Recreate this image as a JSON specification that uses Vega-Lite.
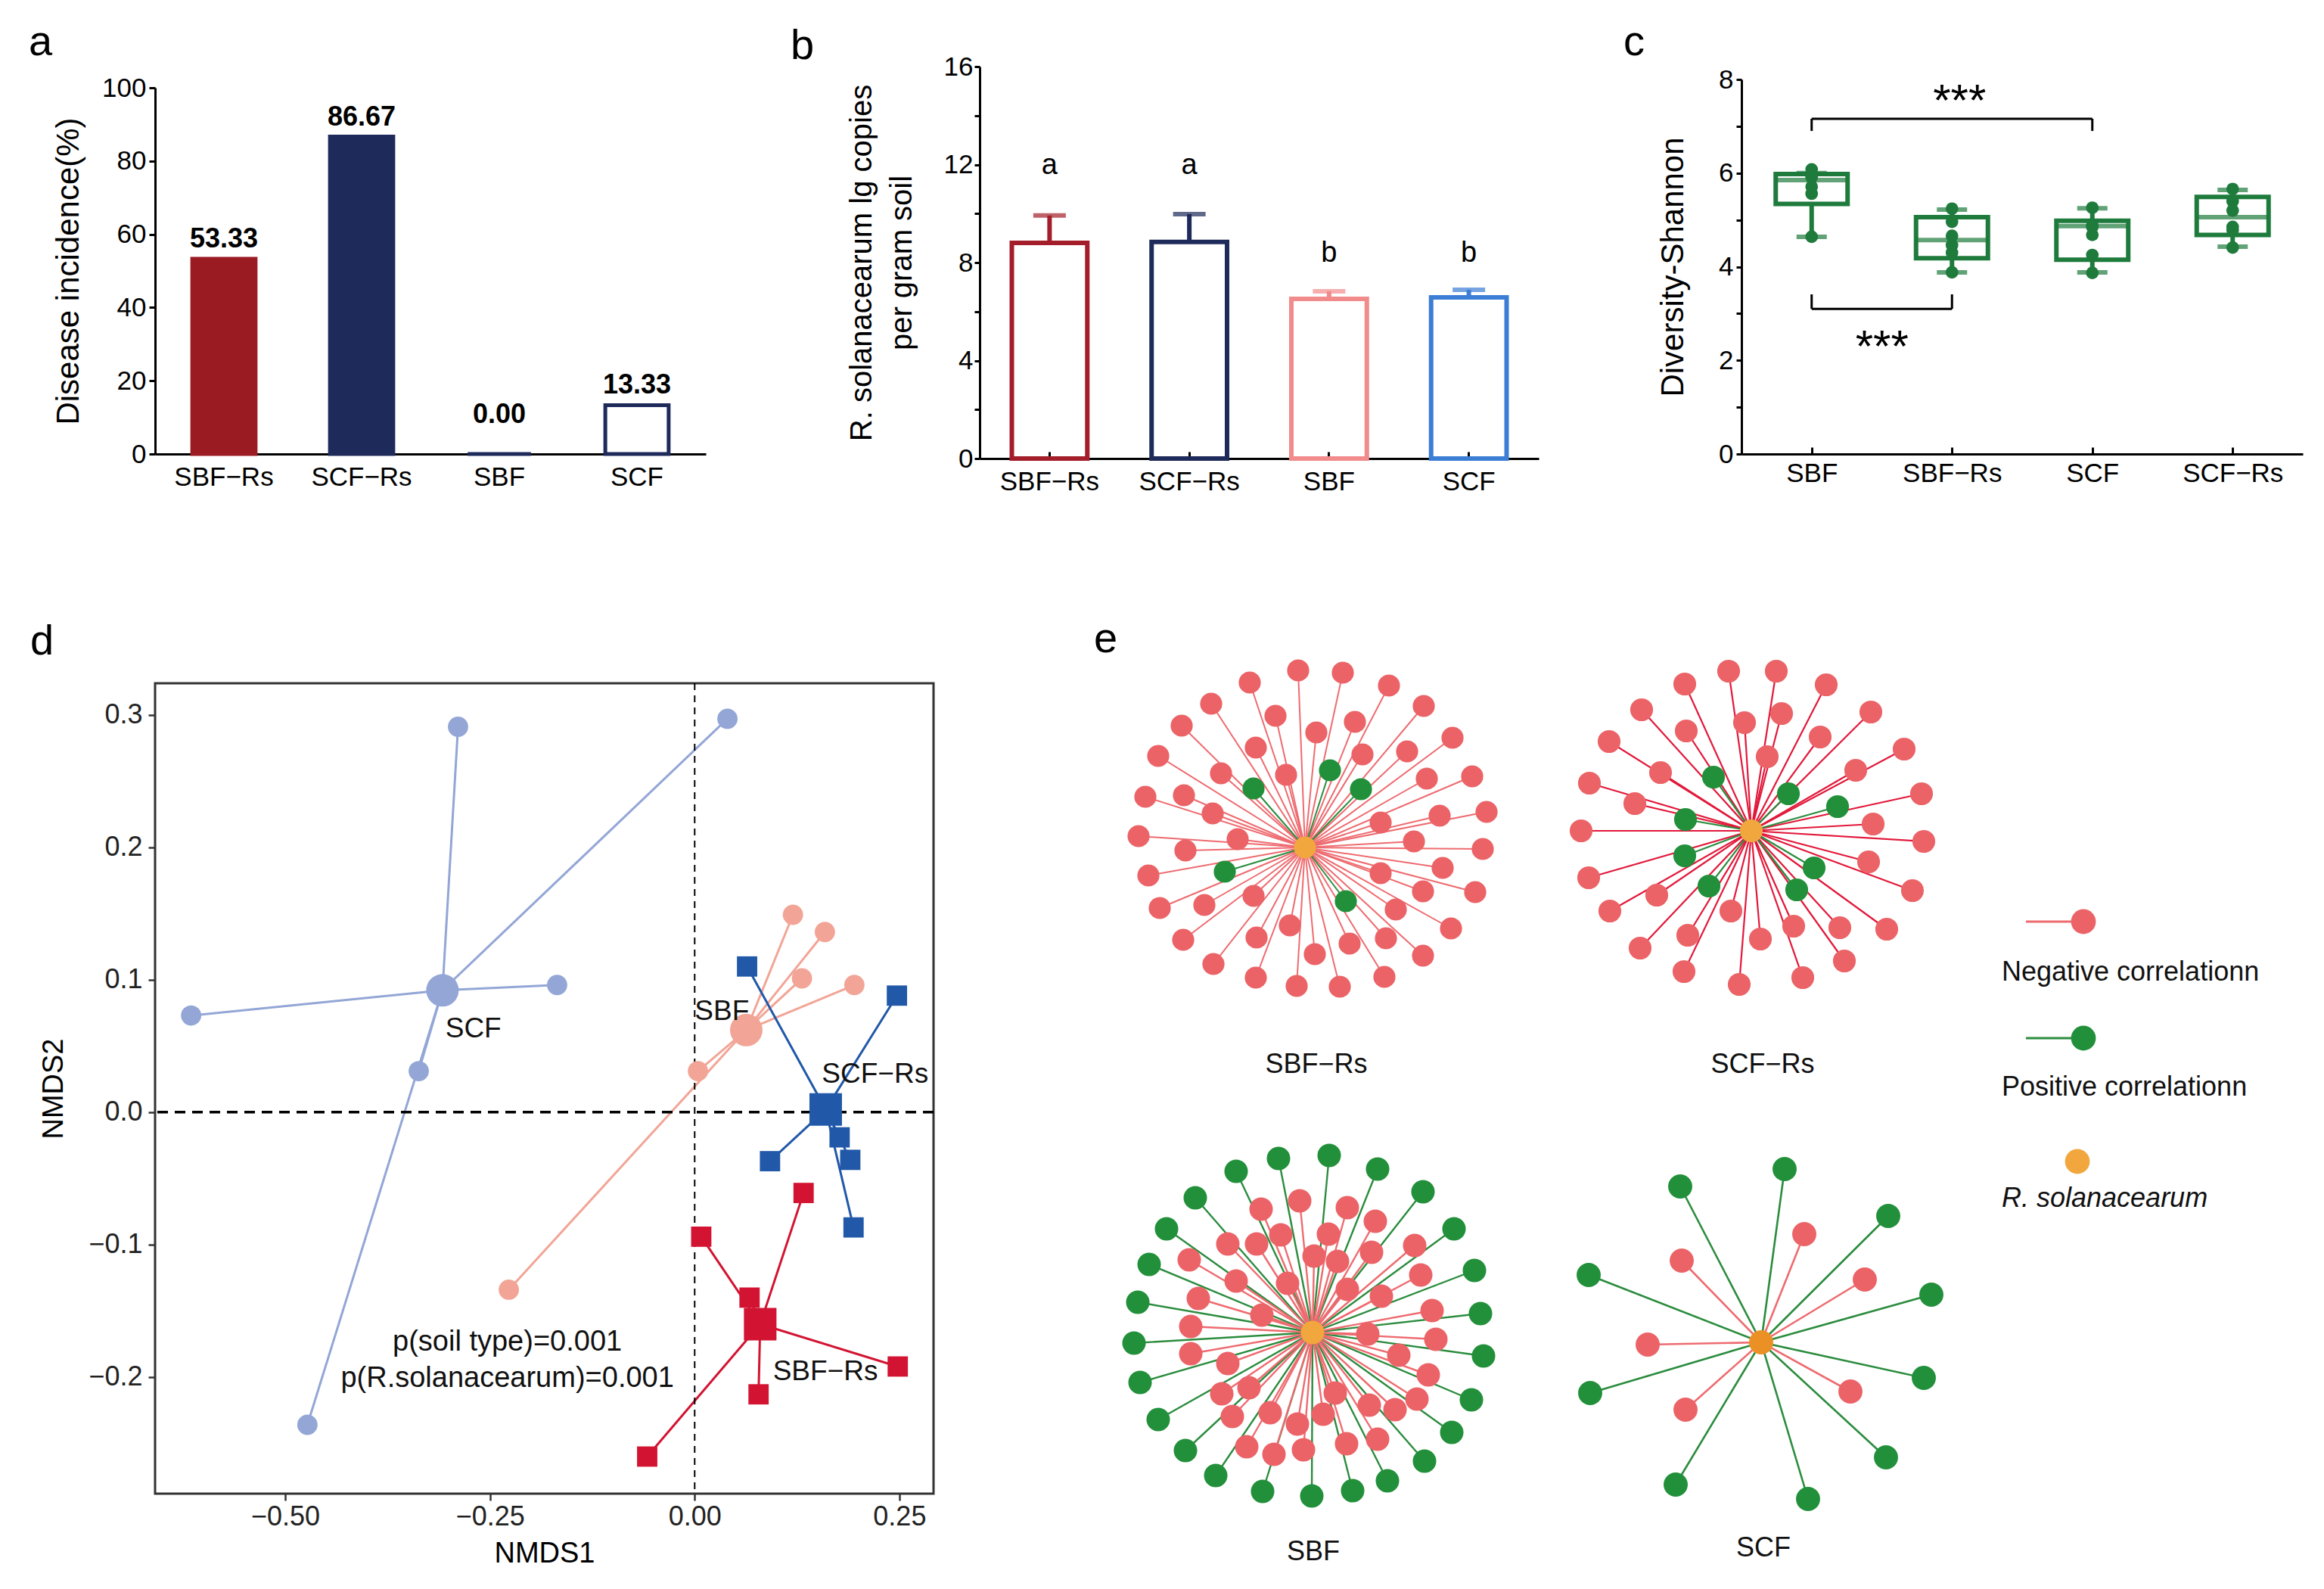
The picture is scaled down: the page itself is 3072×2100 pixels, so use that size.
{
"$schema": "https://vega.github.io/schema/vega-lite/v6.json",
"padding": {"left": 38, "top": 28, "right": 0, "bottom": 0},
"background": "white",
"config": {
  "view": {"stroke": null},
  "font": "Liberation Sans",
  "axis": {"labelFont": "Liberation Sans", "titleFont": "Liberation Sans", "labelColor": "#000", "titleColor": "#000", "labelFontSize": 35, "titleFontSize": 42, "titleFontWeight": "normal", "domainColor": "#000", "domainWidth": 3, "tickColor": "#000", "tickWidth": 3, "grid": false},
  "title": {"font": "Liberation Sans", "fontSize": 56, "fontWeight": "normal", "anchor": "start", "frame": "group", "baseline": "alphabetic", "color": "#000"}
},
"datasets": {
  "incidence": [
    {"group": "SBF−Rs", "incidence": 53.33, "labelY": 53.33},
    {"group": "SCF−Rs", "incidence": 86.67, "labelY": 86.67},
    {"group": "SBF", "incidence": 0, "labelY": 5.4},
    {"group": "SCF", "incidence": 13.33, "labelY": 13.33}
  ],
  "copies": [
    {"group": "SBF−Rs", "mean": 8.80, "upper": 9.92, "letter": "a", "letterY": 11.6},
    {"group": "SCF−Rs", "mean": 8.84, "upper": 9.98, "letter": "a", "letterY": 11.6},
    {"group": "SBF", "mean": 6.52, "upper": 6.83, "letter": "b", "letterY": 8.04},
    {"group": "SCF", "mean": 6.58, "upper": 6.89, "letter": "b", "letterY": 8.04}
  ],
  "shannon_box": [
    {"group": "SBF", "lo": 4.64, "q1": 5.34, "med": 5.85, "q3": 5.98, "hi": 6.0},
    {"group": "SBF−Rs", "lo": 3.88, "q1": 4.18, "med": 4.57, "q3": 5.06, "hi": 5.22},
    {"group": "SCF", "lo": 3.88, "q1": 4.15, "med": 4.87, "q3": 4.98, "hi": 5.25},
    {"group": "SCF−Rs", "lo": 4.43, "q1": 4.68, "med": 5.06, "q3": 5.49, "hi": 5.64}
  ],
  "shannon": [
    {"group": "SBF", "shannon": 5.94}, {"group": "SBF", "shannon": 6.08}, {"group": "SBF", "shannon": 5.91},
    {"group": "SBF", "shannon": 5.71}, {"group": "SBF", "shannon": 5.56}, {"group": "SBF", "shannon": 4.64},
    {"group": "SBF−Rs", "shannon": 5.24}, {"group": "SBF−Rs", "shannon": 4.96}, {"group": "SBF−Rs", "shannon": 4.66},
    {"group": "SBF−Rs", "shannon": 4.46}, {"group": "SBF−Rs", "shannon": 4.30}, {"group": "SBF−Rs", "shannon": 3.88},
    {"group": "SCF", "shannon": 5.26}, {"group": "SCF", "shannon": 4.88}, {"group": "SCF", "shannon": 4.85},
    {"group": "SCF", "shannon": 4.68}, {"group": "SCF", "shannon": 4.25}, {"group": "SCF", "shannon": 3.87},
    {"group": "SCF−Rs", "shannon": 5.66}, {"group": "SCF−Rs", "shannon": 5.40}, {"group": "SCF−Rs", "shannon": 5.20},
    {"group": "SCF−Rs", "shannon": 4.85}, {"group": "SCF−Rs", "shannon": 4.78}, {"group": "SCF−Rs", "shannon": 4.41}
  ],
  "brackets": [
    {"group": "SBF", "group2": "SCF", "y": 7.16},
    {"group": "SBF", "group2": "SBF−Rs", "y": 3.10}
  ],
  "bracket_legs": [
    {"group": "SBF", "y1": 6.90, "y2": 7.16},
    {"group": "SCF", "y1": 6.90, "y2": 7.16},
    {"group": "SBF", "y1": 3.10, "y2": 3.41},
    {"group": "SBF−Rs", "y1": 3.10, "y2": 3.41}
  ],
  "nmds": [
    {"group": "SCF", "x": -0.289, "y": 0.291}, {"group": "SCF", "x": 0.040, "y": 0.297}, {"group": "SCF", "x": -0.168, "y": 0.096},
    {"group": "SCF", "x": -0.615, "y": 0.073}, {"group": "SCF", "x": -0.337, "y": 0.031}, {"group": "SCF", "x": -0.473, "y": -0.236},
    {"group": "SBF", "x": 0.120, "y": 0.149}, {"group": "SBF", "x": 0.159, "y": 0.136}, {"group": "SBF", "x": 0.131, "y": 0.101},
    {"group": "SBF", "x": 0.195, "y": 0.096}, {"group": "SBF", "x": 0.004, "y": 0.031}, {"group": "SBF", "x": -0.227, "y": -0.134},
    {"group": "SCF−Rs", "x": 0.064, "y": 0.110}, {"group": "SCF−Rs", "x": 0.247, "y": 0.088}, {"group": "SCF−Rs", "x": 0.092, "y": -0.037},
    {"group": "SCF−Rs", "x": 0.177, "y": -0.019}, {"group": "SCF−Rs", "x": 0.190, "y": -0.036}, {"group": "SCF−Rs", "x": 0.194, "y": -0.087},
    {"group": "SBF−Rs", "x": 0.133, "y": -0.061}, {"group": "SBF−Rs", "x": 0.008, "y": -0.094}, {"group": "SBF−Rs", "x": 0.067, "y": -0.140},
    {"group": "SBF−Rs", "x": 0.248, "y": -0.192}, {"group": "SBF−Rs", "x": 0.078, "y": -0.213}, {"group": "SBF−Rs", "x": -0.058, "y": -0.260}
  ],
  "nmds_centroids": [
    {"group": "SCF", "x": -0.308, "y": 0.092},
    {"group": "SBF", "x": 0.063, "y": 0.062},
    {"group": "SCF−Rs", "x": 0.160, "y": 0.002},
    {"group": "SBF−Rs", "x": 0.080, "y": -0.160}
  ],
  "nmds_labels": [
    {"label": "SCF", "x": -0.3045, "y": 0.063},
    {"label": "SBF", "x": 0.0, "y": 0.076},
    {"label": "SCF−Rs", "x": 0.1553, "y": 0.0286},
    {"label": "SBF−Rs", "x": 0.0955, "y": -0.196}
  ],
  "nmds_p": [
    {"label": "p(soil type)=0.001", "x": -0.2288, "y": -0.1738},
    {"label": "p(R.solanacearum)=0.001", "x": -0.2288, "y": -0.201}
  ],
  "centers": [
    {"net": "SBF−Rs", "x": 1719, "y": 1121},
    {"net": "SCF−Rs", "x": 2309, "y": 1099},
    {"net": "SBF", "x": 1729, "y": 1762},
    {"net": "SCF", "x": 2322, "y": 1775}
  ],
  "nodes": [
    {"net":"SBF−Rs","type":"neg","x":1710,"y":887},{"net":"SBF−Rs","type":"neg","x":1769,"y":890},{"net":"SBF−Rs","type":"neg","x":1646,"y":903},
    {"net":"SBF−Rs","type":"neg","x":1830,"y":907},{"net":"SBF−Rs","type":"neg","x":1595,"y":931},{"net":"SBF−Rs","type":"neg","x":1876,"y":934},
    {"net":"SBF−Rs","type":"neg","x":1680,"y":947},{"net":"SBF−Rs","type":"neg","x":1785,"y":955},{"net":"SBF−Rs","type":"neg","x":1556,"y":960},
    {"net":"SBF−Rs","type":"neg","x":1734,"y":969},{"net":"SBF−Rs","type":"neg","x":1914,"y":976},{"net":"SBF−Rs","type":"neg","x":1654,"y":989},
    {"net":"SBF−Rs","type":"neg","x":1854,"y":994},{"net":"SBF−Rs","type":"neg","x":1795,"y":998},{"net":"SBF−Rs","type":"neg","x":1525,"y":1000},
    {"net":"SBF−Rs","type":"neg","x":1608,"y":1023},{"net":"SBF−Rs","type":"neg","x":1694,"y":1025},{"net":"SBF−Rs","type":"neg","x":1940,"y":1027},
    {"net":"SBF−Rs","type":"neg","x":1880,"y":1030},{"net":"SBF−Rs","type":"neg","x":1508,"y":1054},{"net":"SBF−Rs","type":"neg","x":1559,"y":1052},
    {"net":"SBF−Rs","type":"neg","x":1597,"y":1076},{"net":"SBF−Rs","type":"neg","x":1897,"y":1079},{"net":"SBF−Rs","type":"neg","x":1959,"y":1074},
    {"net":"SBF−Rs","type":"neg","x":1819,"y":1088},{"net":"SBF−Rs","type":"neg","x":1499,"y":1106},{"net":"SBF−Rs","type":"neg","x":1630,"y":1110},
    {"net":"SBF−Rs","type":"neg","x":1863,"y":1113},{"net":"SBF−Rs","type":"neg","x":1561,"y":1125},{"net":"SBF−Rs","type":"neg","x":1954,"y":1123},
    {"net":"SBF−Rs","type":"neg","x":1512,"y":1158},{"net":"SBF−Rs","type":"neg","x":1901,"y":1148},{"net":"SBF−Rs","type":"neg","x":1819,"y":1155},
    {"net":"SBF−Rs","type":"neg","x":1875,"y":1179},{"net":"SBF−Rs","type":"neg","x":1944,"y":1180},{"net":"SBF−Rs","type":"neg","x":1651,"y":1185},
    {"net":"SBF−Rs","type":"neg","x":1586,"y":1197},{"net":"SBF−Rs","type":"neg","x":1527,"y":1201},{"net":"SBF−Rs","type":"neg","x":1839,"y":1203},
    {"net":"SBF−Rs","type":"neg","x":1912,"y":1228},{"net":"SBF−Rs","type":"neg","x":1699,"y":1224},{"net":"SBF−Rs","type":"neg","x":1655,"y":1240},
    {"net":"SBF−Rs","type":"neg","x":1558,"y":1243},{"net":"SBF−Rs","type":"neg","x":1778,"y":1248},{"net":"SBF−Rs","type":"neg","x":1826,"y":1241},
    {"net":"SBF−Rs","type":"neg","x":1732,"y":1262},{"net":"SBF−Rs","type":"neg","x":1875,"y":1264},{"net":"SBF−Rs","type":"neg","x":1598,"y":1275},
    {"net":"SBF−Rs","type":"neg","x":1654,"y":1293},{"net":"SBF−Rs","type":"neg","x":1824,"y":1292},{"net":"SBF−Rs","type":"neg","x":1708,"y":1304},
    {"net":"SBF−Rs","type":"neg","x":1765,"y":1305},
    {"net":"SBF−Rs","type":"pos","x":1752,"y":1019},{"net":"SBF−Rs","type":"pos","x":1651,"y":1043},{"net":"SBF−Rs","type":"pos","x":1793,"y":1044},
    {"net":"SBF−Rs","type":"pos","x":1613,"y":1153},{"net":"SBF−Rs","type":"pos","x":1773,"y":1192},

    {"net":"SCF−Rs","type":"neg","x":2279,"y":888},{"net":"SCF−Rs","type":"neg","x":2342,"y":888},{"net":"SCF−Rs","type":"neg","x":2221,"y":905},
    {"net":"SCF−Rs","type":"neg","x":2408,"y":906},{"net":"SCF−Rs","type":"neg","x":2164,"y":939},{"net":"SCF−Rs","type":"neg","x":2349,"y":944},
    {"net":"SCF−Rs","type":"neg","x":2467,"y":942},{"net":"SCF−Rs","type":"neg","x":2300,"y":956},{"net":"SCF−Rs","type":"neg","x":2223,"y":967},
    {"net":"SCF−Rs","type":"neg","x":2400,"y":975},{"net":"SCF−Rs","type":"neg","x":2121,"y":981},{"net":"SCF−Rs","type":"neg","x":2511,"y":991},
    {"net":"SCF−Rs","type":"neg","x":2330,"y":1001},{"net":"SCF−Rs","type":"neg","x":2189,"y":1022},{"net":"SCF−Rs","type":"neg","x":2447,"y":1019},
    {"net":"SCF−Rs","type":"neg","x":2095,"y":1036},{"net":"SCF−Rs","type":"neg","x":2534,"y":1050},{"net":"SCF−Rs","type":"neg","x":2155,"y":1063},
    {"net":"SCF−Rs","type":"neg","x":2470,"y":1090},{"net":"SCF−Rs","type":"neg","x":2084,"y":1099},{"net":"SCF−Rs","type":"neg","x":2537,"y":1113},
    {"net":"SCF−Rs","type":"neg","x":2464,"y":1140},{"net":"SCF−Rs","type":"neg","x":2094,"y":1161},{"net":"SCF−Rs","type":"neg","x":2522,"y":1178},
    {"net":"SCF−Rs","type":"neg","x":2184,"y":1184},{"net":"SCF−Rs","type":"neg","x":2122,"y":1205},{"net":"SCF−Rs","type":"neg","x":2282,"y":1205},
    {"net":"SCF−Rs","type":"neg","x":2365,"y":1225},{"net":"SCF−Rs","type":"neg","x":2426,"y":1227},{"net":"SCF−Rs","type":"neg","x":2488,"y":1229},
    {"net":"SCF−Rs","type":"neg","x":2225,"y":1237},{"net":"SCF−Rs","type":"neg","x":2321,"y":1242},{"net":"SCF−Rs","type":"neg","x":2162,"y":1254},
    {"net":"SCF−Rs","type":"neg","x":2432,"y":1271},{"net":"SCF−Rs","type":"neg","x":2220,"y":1285},{"net":"SCF−Rs","type":"neg","x":2377,"y":1293},
    {"net":"SCF−Rs","type":"neg","x":2293,"y":1302},
    {"net":"SCF−Rs","type":"pos","x":2259,"y":1028},{"net":"SCF−Rs","type":"pos","x":2358,"y":1050},{"net":"SCF−Rs","type":"pos","x":2423,"y":1067},
    {"net":"SCF−Rs","type":"pos","x":2222,"y":1084},{"net":"SCF−Rs","type":"pos","x":2221,"y":1132},{"net":"SCF−Rs","type":"pos","x":2392,"y":1148},
    {"net":"SCF−Rs","type":"pos","x":2253,"y":1172},{"net":"SCF−Rs","type":"pos","x":2369,"y":1177},

    {"net":"SBF","type":"pos","x":1684,"y":1532},{"net":"SBF","type":"pos","x":1751,"y":1528},{"net":"SBF","type":"pos","x":1628,"y":1549},
    {"net":"SBF","type":"pos","x":1815,"y":1546},{"net":"SBF","type":"pos","x":1574,"y":1584},{"net":"SBF","type":"pos","x":1875,"y":1576},
    {"net":"SBF","type":"pos","x":1536,"y":1625},{"net":"SBF","type":"pos","x":1916,"y":1625},{"net":"SBF","type":"pos","x":1513,"y":1672},
    {"net":"SBF","type":"pos","x":1943,"y":1680},{"net":"SBF","type":"pos","x":1498,"y":1722},{"net":"SBF","type":"pos","x":1951,"y":1737},
    {"net":"SBF","type":"pos","x":1493,"y":1776},{"net":"SBF","type":"pos","x":1955,"y":1793},{"net":"SBF","type":"pos","x":1501,"y":1828},
    {"net":"SBF","type":"pos","x":1939,"y":1851},{"net":"SBF","type":"pos","x":1525,"y":1877},{"net":"SBF","type":"pos","x":1913,"y":1894},
    {"net":"SBF","type":"pos","x":1561,"y":1918},{"net":"SBF","type":"pos","x":1877,"y":1932},{"net":"SBF","type":"pos","x":1601,"y":1951},
    {"net":"SBF","type":"pos","x":1828,"y":1958},{"net":"SBF","type":"pos","x":1663,"y":1972},{"net":"SBF","type":"pos","x":1728,"y":1978},
    {"net":"SBF","type":"pos","x":1782,"y":1971},
    {"net":"SBF","type":"neg","x":1712,"y":1588},{"net":"SBF","type":"neg","x":1661,"y":1599},{"net":"SBF","type":"neg","x":1775,"y":1597},
    {"net":"SBF","type":"neg","x":1812,"y":1615},{"net":"SBF","type":"neg","x":1687,"y":1633},{"net":"SBF","type":"neg","x":1750,"y":1632},
    {"net":"SBF","type":"neg","x":1617,"y":1645},{"net":"SBF","type":"neg","x":1655,"y":1645},{"net":"SBF","type":"neg","x":1864,"y":1647},
    {"net":"SBF","type":"neg","x":1566,"y":1666},{"net":"SBF","type":"neg","x":1731,"y":1661},{"net":"SBF","type":"neg","x":1762,"y":1668},
    {"net":"SBF","type":"neg","x":1807,"y":1656},{"net":"SBF","type":"neg","x":1872,"y":1686},{"net":"SBF","type":"neg","x":1628,"y":1694},
    {"net":"SBF","type":"neg","x":1696,"y":1697},{"net":"SBF","type":"neg","x":1775,"y":1705},{"net":"SBF","type":"neg","x":1820,"y":1714},
    {"net":"SBF","type":"neg","x":1578,"y":1717},{"net":"SBF","type":"neg","x":1662,"y":1739},{"net":"SBF","type":"neg","x":1887,"y":1733},
    {"net":"SBF","type":"neg","x":1568,"y":1754},{"net":"SBF","type":"neg","x":1802,"y":1764},{"net":"SBF","type":"neg","x":1892,"y":1771},
    {"net":"SBF","type":"neg","x":1568,"y":1790},{"net":"SBF","type":"neg","x":1617,"y":1803},{"net":"SBF","type":"neg","x":1843,"y":1792},
    {"net":"SBF","type":"neg","x":1882,"y":1818},{"net":"SBF","type":"neg","x":1609,"y":1843},{"net":"SBF","type":"neg","x":1645,"y":1835},
    {"net":"SBF","type":"neg","x":1759,"y":1842},{"net":"SBF","type":"neg","x":1867,"y":1850},{"net":"SBF","type":"neg","x":1804,"y":1858},
    {"net":"SBF","type":"neg","x":1838,"y":1864},{"net":"SBF","type":"neg","x":1623,"y":1873},{"net":"SBF","type":"neg","x":1673,"y":1868},
    {"net":"SBF","type":"neg","x":1743,"y":1870},{"net":"SBF","type":"neg","x":1709,"y":1883},{"net":"SBF","type":"neg","x":1642,"y":1913},
    {"net":"SBF","type":"neg","x":1678,"y":1923},{"net":"SBF","type":"neg","x":1717,"y":1917},{"net":"SBF","type":"neg","x":1774,"y":1909},
    {"net":"SBF","type":"neg","x":1815,"y":1903},

    {"net":"SCF","type":"pos","x":2353,"y":1546},{"net":"SCF","type":"pos","x":2215,"y":1569},{"net":"SCF","type":"pos","x":2490,"y":1608},
    {"net":"SCF","type":"pos","x":2094,"y":1686},{"net":"SCF","type":"pos","x":2547,"y":1712},{"net":"SCF","type":"pos","x":2537,"y":1822},
    {"net":"SCF","type":"pos","x":2096,"y":1842},{"net":"SCF","type":"pos","x":2487,"y":1927},{"net":"SCF","type":"pos","x":2209,"y":1963},
    {"net":"SCF","type":"pos","x":2384,"y":1982},
    {"net":"SCF","type":"neg","x":2379,"y":1632},{"net":"SCF","type":"neg","x":2217,"y":1667},{"net":"SCF","type":"neg","x":2459,"y":1692},
    {"net":"SCF","type":"neg","x":2172,"y":1778},{"net":"SCF","type":"neg","x":2440,"y":1840},{"net":"SCF","type":"neg","x":2222,"y":1864}
  ],
  "net_labels": [
    {"label": "SBF−Rs", "x": 1734, "y": 1408},
    {"label": "SCF−Rs", "x": 2324, "y": 1408},
    {"label": "SBF", "x": 1730, "y": 2052},
    {"label": "SCF", "x": 2325, "y": 2047}
  ],
  "legend_items": [
    {"item": "neg", "x1": 2672, "x": 2748, "y": 1219},
    {"item": "pos", "x1": 2672, "x": 2748, "y": 1373}
  ],
  "legend_text": [
    {"label": "Negative correlationn", "style": "normal", "x": 2640, "y": 1286},
    {"label": "Positive correlationn", "style": "normal", "x": 2640, "y": 1438},
    {"label": "R. solanacearum", "style": "italic", "x": 2640, "y": 1585}
  ],
  "legend_center": [
    {"label": "R. solanacearum", "x": 2740, "y": 1536}
  ]
},
"resolve": {"scale": {"color": "independent", "fill": "independent", "stroke": "independent", "size": "independent", "shape": "independent", "strokeWidth": "independent"}},
"vconcat": [
  {
    "spacing": 112,
    "resolve": {"scale": {"color": "independent", "fill": "independent", "stroke": "independent", "size": "independent", "shape": "independent", "strokeWidth": "independent"}},
    "hconcat": [
      {
        "title": {"text": "a", "dx": -167, "offset": 3},
        "width": 728, "height": 512,
        "data": {"name": "incidence"},
        "encoding": {
          "x": {"field": "group", "type": "nominal", "sort": null, "scale": {"paddingInner": 0.54, "paddingOuter": 0.27}, "axis": {"title": null, "labelAngle": 0, "ticks": false, "labelPadding": 13}}
        },
        "layer": [
          {
            "mark": {"type": "bar", "strokeWidth": 5},
            "encoding": {
              "y": {"field": "incidence", "type": "quantitative", "title": "Disease incidence(%)", "scale": {"domain": [0, 100], "nice": false, "range": [512, 28]}, "axis": {"values": [0, 20, 40, 60, 80, 100], "tickSize": 8, "labelPadding": 4, "titlePadding": 22}},
              "fill": {"field": "group", "type": "nominal", "scale": {"domain": ["SBF−Rs", "SCF−Rs", "SBF", "SCF"], "range": ["#9A1B22", "#1E2A5A", "#FFFFFF", "#FFFFFF"]}, "legend": null},
              "stroke": {"field": "group", "type": "nominal", "scale": {"domain": ["SBF−Rs", "SCF−Rs", "SBF", "SCF"], "range": ["#9A1B22", "#1E2A5A", "#1E2A5A", "#1E2A5A"]}, "legend": null}
            }
          },
          {
            "mark": {"type": "text", "fontWeight": "bold", "fontSize": 36, "baseline": "alphabetic", "dy": -15, "color": "#000"},
            "encoding": {
              "y": {"field": "labelY", "type": "quantitative", "title": "Disease incidence(%)"},
              "text": {"field": "incidence", "type": "quantitative", "format": ".2f"}
            }
          }
        ]
      },
      {
        "title": {"text": "b", "dx": -250, "offset": -19},
        "width": 739, "height": 518,
        "data": {"name": "copies"},
        "encoding": {
          "x": {"field": "group", "type": "nominal", "sort": null, "scale": {"paddingInner": 0.46, "paddingOuter": 0.23}, "axis": {"title": null, "labelAngle": 0, "tickSize": -9, "labelPadding": 22}},
          "color": {"field": "group", "type": "nominal", "scale": {"domain": ["SBF−Rs", "SCF−Rs", "SBF", "SCF"], "range": ["#A31E2A", "#1E2A5A", "#F28B8B", "#3C7ED6"]}, "legend": null}
        },
        "layer": [
          {
            "mark": {"type": "bar", "filled": false, "strokeWidth": 6},
            "encoding": {"y": {"field": "mean", "type": "quantitative", "title": ["R. solanacearum  lg copies", "per gram soil"], "scale": {"domain": [0, 16], "nice": false}, "axis": {"values": [0, 2, 4, 6, 8, 10, 12, 14, 16], "format": "d", "labelExpr": "datum.value % 4 === 0 ? datum.label : ''", "tickSize": 7, "labelPadding": 2, "titleFontSize": 40, "titleLineHeight": 53, "titlePadding": 35}}}
          },
          {
            "mark": {"type": "rule", "strokeWidth": 6},
            "encoding": {"y": {"field": "mean", "type": "quantitative", "title": ["R. solanacearum  lg copies", "per gram soil"]}, "y2": {"field": "upper"}}
          },
          {
            "mark": {"type": "tick", "thickness": 6, "size": 43},
            "encoding": {"y": {"field": "upper", "type": "quantitative", "title": ["R. solanacearum  lg copies", "per gram soil"]}}
          },
          {
            "mark": {"type": "text", "fontSize": 38, "baseline": "alphabetic"},
            "encoding": {"y": {"field": "letterY", "type": "quantitative", "title": ["R. solanacearum  lg copies", "per gram soil"]}, "text": {"field": "letter"}, "color": {"value": "#000"}}
          }
        ]
      },
      {
        "title": {"text": "c", "dx": -156, "offset": 3},
        "width": 742, "height": 512,
        "encoding": {
          "x": {"field": "group", "type": "nominal", "scale": {"type": "point", "padding": 0.5, "domain": ["SBF", "SBF−Rs", "SCF", "SCF−Rs"]}, "axis": {"title": null, "labelAngle": 0, "tickSize": -9, "labelPadding": 17}}
        },
        "layer": [
          {
            "data": {"name": "shannon_box"},
            "mark": {"type": "rule", "color": "#1E7B3C", "strokeWidth": 6},
            "encoding": {"y": {"field": "lo", "type": "quantitative", "title": "Diversity-Shannon", "scale": {"domain": [0, 8], "nice": false, "range": [512, 17]}, "axis": {"values": [0, 1, 2, 3, 4, 5, 6, 7, 8], "format": "d", "labelExpr": "datum.value % 2 === 0 ? datum.label : ''", "tickSize": 7, "labelPadding": 4, "titlePadding": 38}}, "y2": {"field": "q1"}}
          },
          {
            "data": {"name": "shannon_box"},
            "mark": {"type": "rule", "color": "#1E7B3C", "strokeWidth": 6},
            "encoding": {"y": {"field": "q3", "type": "quantitative", "title": "Diversity-Shannon"}, "y2": {"field": "hi"}}
          },
          {
            "data": {"name": "shannon_box"},
            "mark": {"type": "bar", "width": 95, "fill": "#FFFFFF", "stroke": "#1E7B3C", "strokeWidth": 6},
            "encoding": {"y": {"field": "q1", "type": "quantitative", "title": "Diversity-Shannon"}, "y2": {"field": "q3"}}
          },
          {
            "data": {"name": "shannon_box"},
            "mark": {"type": "tick", "size": 95, "thickness": 6, "color": "#1E7B3C"},
            "encoding": {"y": {"field": "med", "type": "quantitative", "title": "Diversity-Shannon"}}
          },
          {
            "data": {"name": "shannon_box"},
            "mark": {"type": "tick", "size": 40, "thickness": 6, "color": "#1E7B3C"},
            "encoding": {"y": {"field": "lo", "type": "quantitative", "title": "Diversity-Shannon"}}
          },
          {
            "data": {"name": "shannon_box"},
            "mark": {"type": "tick", "size": 40, "thickness": 6, "color": "#1E7B3C"},
            "encoding": {"y": {"field": "hi", "type": "quantitative", "title": "Diversity-Shannon"}}
          },
          {
            "data": {"name": "shannon"},
            "mark": {"type": "circle", "size": 280, "opacity": 1, "color": "#1E7B3C"},
            "encoding": {"y": {"field": "shannon", "type": "quantitative", "title": "Diversity-Shannon"}}
          },
          {
            "data": {"name": "brackets"},
            "mark": {"type": "rule", "color": "#000", "strokeWidth": 3},
            "encoding": {"x2": {"field": "group2"}, "y": {"field": "y", "type": "quantitative", "title": "Diversity-Shannon"}}
          },
          {
            "data": {"name": "bracket_legs"},
            "mark": {"type": "rule", "color": "#000", "strokeWidth": 3},
            "encoding": {"y": {"field": "y1", "type": "quantitative", "title": "Diversity-Shannon"}, "y2": {"field": "y2"}}
          },
          {
            "data": {"values": [{"group": "SBF−Rs", "y": 7.23, "label": "***"}]},
            "mark": {"type": "text", "fontSize": 60, "baseline": "alphabetic", "dx": 10, "color": "#000"},
            "encoding": {"y": {"field": "y", "type": "quantitative", "title": "Diversity-Shannon"}, "text": {"field": "label"}}
          },
          {
            "data": {"values": [{"group": "SBF", "y": 1.97, "label": "***"}]},
            "mark": {"type": "text", "fontSize": 60, "baseline": "alphabetic", "dx": 93, "color": "#000"},
            "encoding": {"y": {"field": "y", "type": "quantitative", "title": "Diversity-Shannon"}, "text": {"field": "label"}}
          }
        ]
      }
    ]
  },
  {
    "spacing": 208,
    "resolve": {"scale": {"color": "independent", "fill": "independent", "stroke": "independent", "size": "independent", "shape": "independent", "strokeWidth": "independent"}},
    "hconcat": [
      {
        "title": {"text": "d", "dx": -165, "offset": 25},
        "width": 1029, "height": 1071,
        "view": {"stroke": "#333333", "strokeWidth": 3},
        "resolve": {"scale": {"size": "independent"}},
        "layer": [
          {
            "data": {"name": "nmds"},
            "transform": [{"lookup": "group", "from": {"data": {"name": "nmds_centroids"}, "key": "group", "fields": ["x", "y"]}, "as": ["cx", "cy"]}],
            "mark": {"type": "rule", "strokeWidth": 3},
            "encoding": {
              "x": {"field": "x", "type": "quantitative", "title": "NMDS1", "scale": {"domain": [-0.659, 0.2917], "nice": false, "zero": false}, "axis": {"values": [-0.5, -0.25, 0, 0.25], "format": ".2f", "domain": false, "tickSize": 9, "tickColor": "#333", "tickWidth": 2.5, "labelPadding": 4, "labelFontSize": 36, "labelColor": "#222", "titleFontSize": 38, "titlePadding": 12}},
              "y": {"field": "y", "type": "quantitative", "title": "NMDS2", "scale": {"domain": [-0.288, 0.3238], "nice": false, "zero": false}, "axis": {"values": [-0.2, -0.1, 0, 0.1, 0.2, 0.3], "format": ".1f", "domain": false, "tickSize": 9, "tickColor": "#333", "tickWidth": 2.5, "labelPadding": 8, "labelFontSize": 36, "labelColor": "#222", "titleFontSize": 38, "titlePadding": 26}},
              "x2": {"field": "cx"},
              "y2": {"field": "cy"},
              "color": {"field": "group", "type": "nominal", "scale": {"domain": ["SCF", "SBF", "SCF−Rs", "SBF−Rs"], "range": ["#93A6D6", "#F2A596", "#2158A8", "#D21432"]}, "legend": null}
            }
          },
          {
            "data": {"values": [{}]},
            "mark": {"type": "rule", "strokeDash": [9, 7], "strokeWidth": 2, "color": "#000"},
            "encoding": {"x": {"datum": 0, "type": "quantitative", "title": "NMDS1"}}
          },
          {
            "data": {"values": [{}]},
            "mark": {"type": "rule", "strokeDash": [14, 9], "strokeWidth": 3.5, "color": "#000"},
            "encoding": {"y": {"datum": 0, "type": "quantitative", "title": "NMDS2"}}
          },
          {
            "data": {"name": "nmds"},
            "mark": {"type": "point", "filled": true, "opacity": 1},
            "encoding": {
              "x": {"field": "x", "type": "quantitative", "title": "NMDS1"},
              "y": {"field": "y", "type": "quantitative", "title": "NMDS2"},
              "color": {"field": "group", "type": "nominal", "legend": null},
              "shape": {"field": "group", "type": "nominal", "scale": {"domain": ["SCF", "SBF", "SCF−Rs", "SBF−Rs"], "range": ["circle", "circle", "square", "square"]}, "legend": null},
              "size": {"field": "group", "type": "ordinal", "scale": {"domain": ["SCF", "SBF", "SCF−Rs", "SBF−Rs"], "range": [720, 720, 1000, 1000]}, "legend": null}
            }
          },
          {
            "data": {"name": "nmds_centroids"},
            "mark": {"type": "point", "filled": true, "opacity": 1},
            "encoding": {
              "x": {"field": "x", "type": "quantitative", "title": "NMDS1"},
              "y": {"field": "y", "type": "quantitative", "title": "NMDS2"},
              "color": {"field": "group", "type": "nominal", "legend": null},
              "shape": {"field": "group", "type": "nominal", "legend": null},
              "size": {"field": "group", "type": "ordinal", "scale": {"domain": ["SCF", "SBF", "SCF−Rs", "SBF−Rs"], "range": [1850, 1850, 2500, 2500]}, "legend": null}
            }
          },
          {
            "data": {"name": "nmds_labels"},
            "mark": {"type": "text", "align": "left", "baseline": "middle", "fontSize": 37, "color": "#111"},
            "encoding": {
              "x": {"field": "x", "type": "quantitative", "title": "NMDS1"},
              "y": {"field": "y", "type": "quantitative", "title": "NMDS2"},
              "text": {"field": "label"}
            }
          },
          {
            "data": {"name": "nmds_p"},
            "mark": {"type": "text", "align": "center", "baseline": "middle", "fontSize": 38, "color": "#111"},
            "encoding": {
              "x": {"field": "x", "type": "quantitative", "title": "NMDS1"},
              "y": {"field": "y", "type": "quantitative", "title": "NMDS2"},
              "text": {"field": "label"}
            }
          }
        ]
      },
      {
        "title": {"text": "e", "dx": 0, "offset": -3},
        "width": 1620, "height": 1176,
        "layer": [
          {
            "data": {"name": "nodes"},
            "transform": [{"lookup": "net", "from": {"data": {"name": "centers"}, "key": "net", "fields": ["x", "y"]}, "as": ["cx", "cy"]}],
            "mark": {"type": "rule"},
            "encoding": {
              "x": {"field": "x", "type": "quantitative", "scale": {"domain": [1440, 3060], "nice": false, "zero": false}, "axis": null},
              "y": {"field": "y", "type": "quantitative", "scale": {"domain": [904, 2080], "nice": false, "zero": false, "reverse": true}, "axis": null},
              "x2": {"field": "cx"},
              "y2": {"field": "cy"},
              "stroke": {"condition": {"test": "datum.net === 'SCF−Rs' && datum.type === 'neg'", "value": "#E2183A"}, "field": "type", "type": "nominal", "scale": {"domain": ["neg", "pos"], "range": ["#EE6B70", "#2B8C3E"]}, "legend": null},
              "strokeWidth": {"field": "net", "type": "ordinal", "scale": {"domain": ["SBF−Rs", "SCF−Rs", "SBF", "SCF"], "range": [2, 2.6, 2, 3.5]}, "legend": null}
            }
          },
          {
            "data": {"name": "nodes"},
            "mark": {"type": "circle", "opacity": 1},
            "encoding": {
              "x": {"field": "x", "type": "quantitative", "axis": null},
              "y": {"field": "y", "type": "quantitative", "axis": null},
              "fill": {"field": "type", "type": "nominal", "scale": {"domain": ["neg", "pos"], "range": ["#EB6367", "#22903A"]}, "legend": null},
              "size": {"field": "net", "type": "ordinal", "scale": {"domain": ["SBF−Rs", "SCF−Rs", "SBF", "SCF"], "range": [855, 1018, 755, 1134]}, "legend": null}
            }
          },
          {
            "data": {"name": "centers"},
            "mark": {"type": "circle", "opacity": 1},
            "encoding": {
              "x": {"field": "x", "type": "quantitative", "axis": null},
              "y": {"field": "y", "type": "quantitative", "axis": null},
              "fill": {"condition": {"test": "datum.net === 'SCF'", "value": "#EB9024"}, "value": "#F1A73E"},
              "size": {"field": "net", "type": "ordinal", "legend": null}
            }
          },
          {
            "data": {"name": "net_labels"},
            "mark": {"type": "text", "fontSize": 36, "baseline": "middle", "align": "center", "color": "#111"},
            "encoding": {
              "x": {"field": "x", "type": "quantitative", "axis": null},
              "y": {"field": "y", "type": "quantitative", "axis": null},
              "text": {"field": "label"}
            }
          },
          {
            "data": {"name": "legend_items"},
            "mark": {"type": "rule", "strokeWidth": 3},
            "encoding": {
              "x": {"field": "x1", "type": "quantitative", "axis": null},
              "x2": {"field": "x"},
              "y": {"field": "y", "type": "quantitative", "axis": null},
              "stroke": {"field": "item", "type": "nominal", "legend": null}
            }
          },
          {
            "data": {"name": "legend_items"},
            "mark": {"type": "circle", "opacity": 1, "size": 1075},
            "encoding": {
              "x": {"field": "x", "type": "quantitative", "axis": null},
              "y": {"field": "y", "type": "quantitative", "axis": null},
              "fill": {"field": "item", "type": "nominal", "legend": null}
            }
          },
          {
            "data": {"name": "legend_center"},
            "mark": {"type": "circle", "opacity": 1, "size": 1075, "fill": "#F1A73E"},
            "encoding": {
              "x": {"field": "x", "type": "quantitative", "axis": null},
              "y": {"field": "y", "type": "quantitative", "axis": null}
            }
          },
          {
            "data": {"name": "legend_text"},
            "transform": [{"filter": "datum.style === 'normal'"}],
            "mark": {"type": "text", "fontSize": 36, "align": "left", "baseline": "middle", "color": "#111"},
            "encoding": {
              "x": {"field": "x", "type": "quantitative", "axis": null},
              "y": {"field": "y", "type": "quantitative", "axis": null},
              "text": {"field": "label"}
            }
          },
          {
            "data": {"name": "legend_text"},
            "transform": [{"filter": "datum.style === 'italic'"}],
            "mark": {"type": "text", "fontSize": 36, "fontStyle": "italic", "align": "left", "baseline": "middle", "color": "#111"},
            "encoding": {
              "x": {"field": "x", "type": "quantitative", "axis": null},
              "y": {"field": "y", "type": "quantitative", "axis": null},
              "text": {"field": "label"}
            }
          }
        ]
      }
    ]
  }
],
"spacing": 163
}
